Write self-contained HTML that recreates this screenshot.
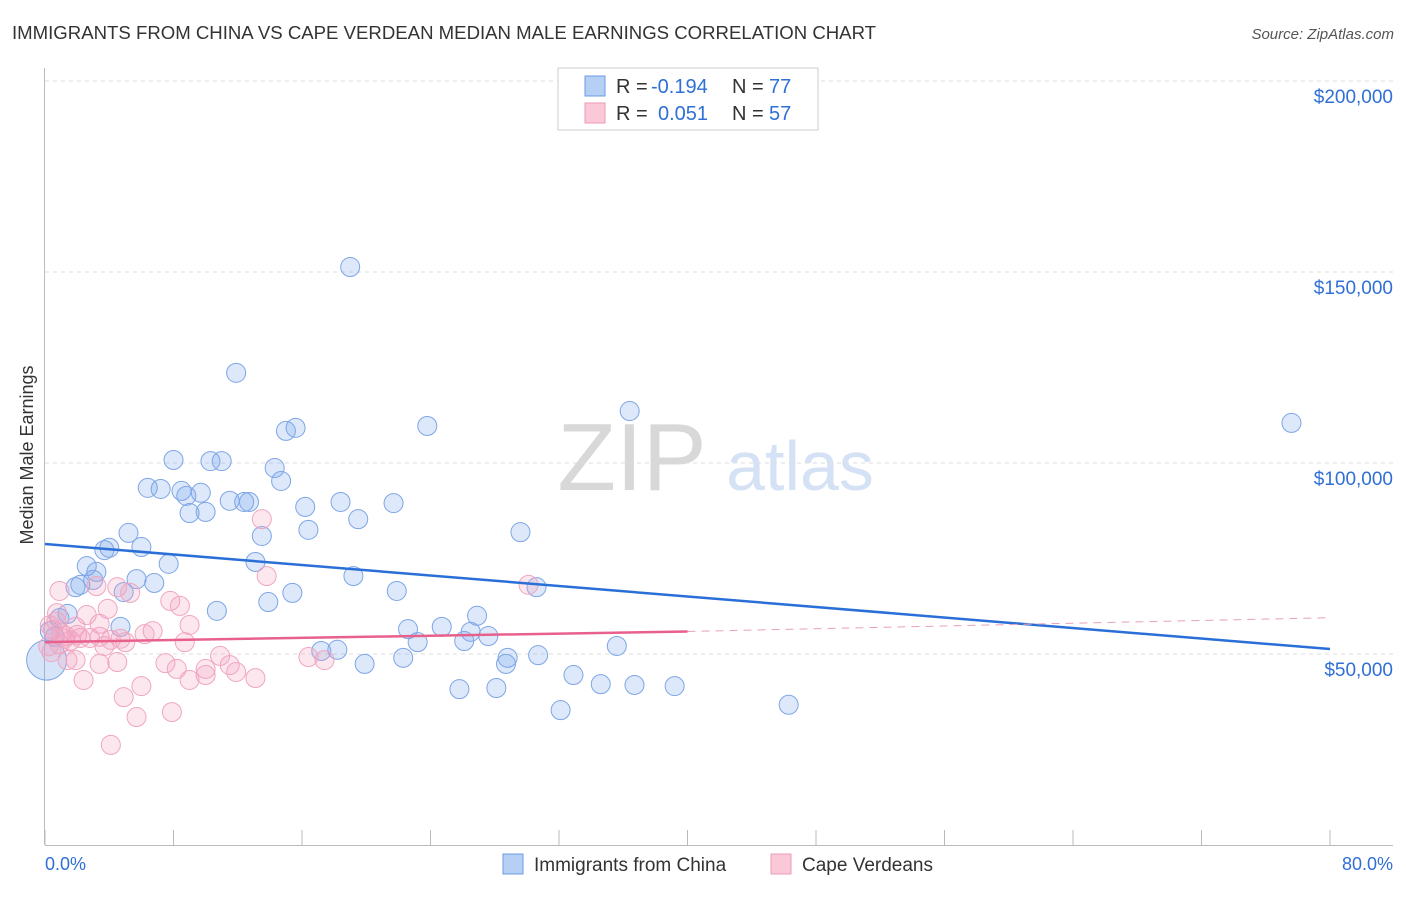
<!DOCTYPE html>
<html><head><meta charset="utf-8"><style>
body{margin:0;background:#fff;font-family:"Liberation Sans",sans-serif;}
svg text{font-family:"Liberation Sans",sans-serif;}
</style></head><body>
<svg id="c" width="1406" height="892">
<text x="12" y="39" font-size="18.6" fill="#333">IMMIGRANTS FROM CHINA VS CAPE VERDEAN MEDIAN MALE EARNINGS CORRELATION CHART</text>
<text x="1394" y="39" font-size="15" fill="#555" font-style="italic" text-anchor="end">Source: ZipAtlas.com</text>
<text x="33" y="455" font-size="18" fill="#333" transform="rotate(-90 33 455)" text-anchor="middle">Median Male Earnings</text>
<g><text x="632" y="490" font-size="96" fill="#d8d8d8" font-family="Liberation Serif" text-anchor="middle">ZIP</text><text x="800" y="490" font-size="70" fill="#d5e2f5" text-anchor="middle">atlas</text></g>
<g id="grid"></g><g id="pts"></g><g id="lines"></g>
<g>
<rect x="558" y="68" width="260" height="62" fill="#fff" stroke="#ccc"/>
<rect x="585" y="76" width="20" height="20" fill="#b5cff5" stroke="#6c9be6"/>
<rect x="585" y="103" width="20" height="20" fill="#fbc8d8" stroke="#ee9ab6"/>
<text x="616" y="93" font-size="20" fill="#333">R =</text><text x="651" y="93" font-size="20" fill="#2f6fd6">-0.194</text>
<text x="732" y="93" font-size="20" fill="#333">N =</text><text x="769" y="93" font-size="20" fill="#2f6fd6">77</text>
<text x="616" y="120" font-size="20" fill="#333">R =</text><text x="658" y="120" font-size="20" fill="#2f6fd6">0.051</text>
<text x="732" y="120" font-size="20" fill="#333">N =</text><text x="769" y="120" font-size="20" fill="#2f6fd6">57</text>
</g>
<g>
<rect x="503" y="854" width="20" height="20" fill="#b5cff5" stroke="#6c9be6"/>
<text x="534" y="871" font-size="19" fill="#333">Immigrants from China</text>
<rect x="771" y="854" width="20" height="20" fill="#fbc8d8" stroke="#ee9ab6"/>
<text x="802" y="871" font-size="19" fill="#333">Cape Verdeans</text>
</g>
<text x="45" y="870" font-size="18" fill="#2f6fd6">0.0%</text>
<text x="1393" y="870" font-size="18" fill="#2f6fd6" text-anchor="end">80.0%</text>
</svg>
<script>
const yTicks=[50000,100000,150000,200000];
const yTickLabels=["$50,000","$100,000","$150,000","$200,000"];
const chinaX=[19.0,11.9,36.4,77.6,23.8,15.0,15.6,8.0,10.3,11.0,14.3,14.7,6.4,7.2,8.5,8.8,9.7,11.5,12.4,12.7,18.4,21.7,16.2,9.0,10.0,19.5,16.4,29.6,5.2,13.5,6.0,3.7,4.0,13.1,7.7,2.6,3.2,19.2,5.7,6.8,3.0,2.2,1.9,30.6,21.9,4.9,15.4,13.9,10.7,26.9,1.4,0.9,22.6,24.7,4.7,26.5,27.6,26.1,23.2,35.6,18.2,17.2,30.7,22.3,28.8,28.7,19.9,32.9,34.6,36.7,39.2,25.8,28.1,46.3,32.1,0.6,0.3];
const chinaY=[151.3,123.6,113.6,110.5,109.7,108.4,109.2,100.8,100.5,100.5,98.7,95.3,93.5,93.2,92.7,91.4,92.2,90.1,89.8,89.8,89.8,89.5,88.5,86.9,87.2,85.3,82.5,81.9,81.7,80.9,78.0,77.2,77.8,74.1,73.6,73.0,71.5,70.4,69.6,68.6,69.4,68.1,67.5,67.5,66.5,66.2,66.0,63.6,61.3,60.0,60.5,59.4,56.5,57.1,57.1,55.8,54.7,53.4,53.1,52.1,51.1,50.8,49.7,49.0,49.0,47.4,47.4,44.5,42.1,41.9,41.6,40.8,41.1,36.7,35.3,54.5,56.0];
const capeX=[13.5,13.8,30.1,4.5,0.9,3.2,5.3,7.8,8.4,3.9,0.75,2.6,9.0,3.4,1.9,6.7,6.2,0.5,1.3,2.2,2.8,3.4,4.1,4.7,5.0,8.7,0.9,3.7,1.4,1.9,3.4,4.5,7.5,16.4,17.4,10.9,11.5,8.2,10.0,10.0,9.0,11.9,13.1,2.4,6.0,4.9,7.9,5.7,4.1,0.2,0.4,1.0,1.6,2.0,0.3,0.7,1.2];
const capeY=[85.3,70.4,68.1,67.5,66.5,67.8,66.0,63.9,62.6,61.8,60.7,60.2,57.6,57.9,57.1,56.0,55.2,56.3,54.7,54.2,54.2,54.5,53.7,54.0,53.1,53.1,52.6,52.1,48.4,48.4,47.4,47.9,47.6,49.2,48.4,49.5,47.1,46.1,46.1,44.5,43.2,45.3,43.7,43.2,41.6,38.7,34.8,33.5,26.2,52.0,50.5,55.5,53.5,55.0,57.5,58.5,54.0];
const chinaTrend=[78.8,51.3];
const capeTrend=[53.1,55.9,59.5];
const NS="http://www.w3.org/2000/svg";
const X=v=>45+v/80*1285, Y=v=>845-v/50*191;
function mk(t,a,p){const e=document.createElementNS(NS,t);for(const k in a)e.setAttribute(k,a[k]);p.appendChild(e);return e;}
const g=document.getElementById('grid');
yTicks.forEach((t,i)=>{
 const l=mk('line',{x1:45,x2:1393,y1:Y(t/1000),y2:Y(t/1000),stroke:'#ddd','stroke-dasharray':'4,4'},g);
 
 
 const tx=mk('text',{x:1393,y:Y(t/1000)+22,'font-size':19,fill:'#2f6fd6','text-anchor':'end'},g);
 tx.textContent=yTickLabels[i];
 
 
});
mk('line',{x1:44.5,x2:44.5,y1:68,y2:845,stroke:'#bbb'},g);
mk('line',{x1:45,x2:1393,y1:845.5,y2:845.5,stroke:'#bbb'},g);
for(let i=0;i<=10;i++){const t=mk('line',{x1:X(i*8),x2:X(i*8),y1:830,y2:845,stroke:'#bbb'},g);
 
 }
const p=document.getElementById('pts');
chinaX.forEach((x,i)=>{
 const c=mk('circle',{cx:X(x),cy:Y(chinaY[i]),r:9.5,fill:'rgba(120,165,235,0.25)',stroke:'#7ea6e6','stroke-width':1},p);
 
 });
const big=mk('circle',{cx:X(0.1),cy:Y(48.4),r:20,fill:'rgba(120,165,235,0.3)',stroke:'#7ea6e6'},p);


capeX.forEach((x,i)=>{
 const c=mk('circle',{cx:X(x),cy:Y(capeY[i]),r:9.5,fill:'rgba(245,160,190,0.25)',stroke:'#f0a6c0','stroke-width':1},p);
 
 });
const L=document.getElementById('lines');
const bl=mk('line',{x1:X(0),y1:Y(chinaTrend[0]),x2:X(80),y2:Y(chinaTrend[1]),stroke:'#2a6fd8','stroke-width':2.5},L);


const pl=mk('line',{x1:X(0),y1:Y(capeTrend[0]),x2:X(40),y2:Y(capeTrend[1]),stroke:'#e8608c','stroke-width':2.5},L);


const pd=mk('line',{x1:X(40),y1:Y(capeTrend[1]),x2:X(80),y2:Y(capeTrend[2]),stroke:'#e8a0b8','stroke-width':1,'stroke-dasharray':'8,6'},L);


</script>
</body></html>
